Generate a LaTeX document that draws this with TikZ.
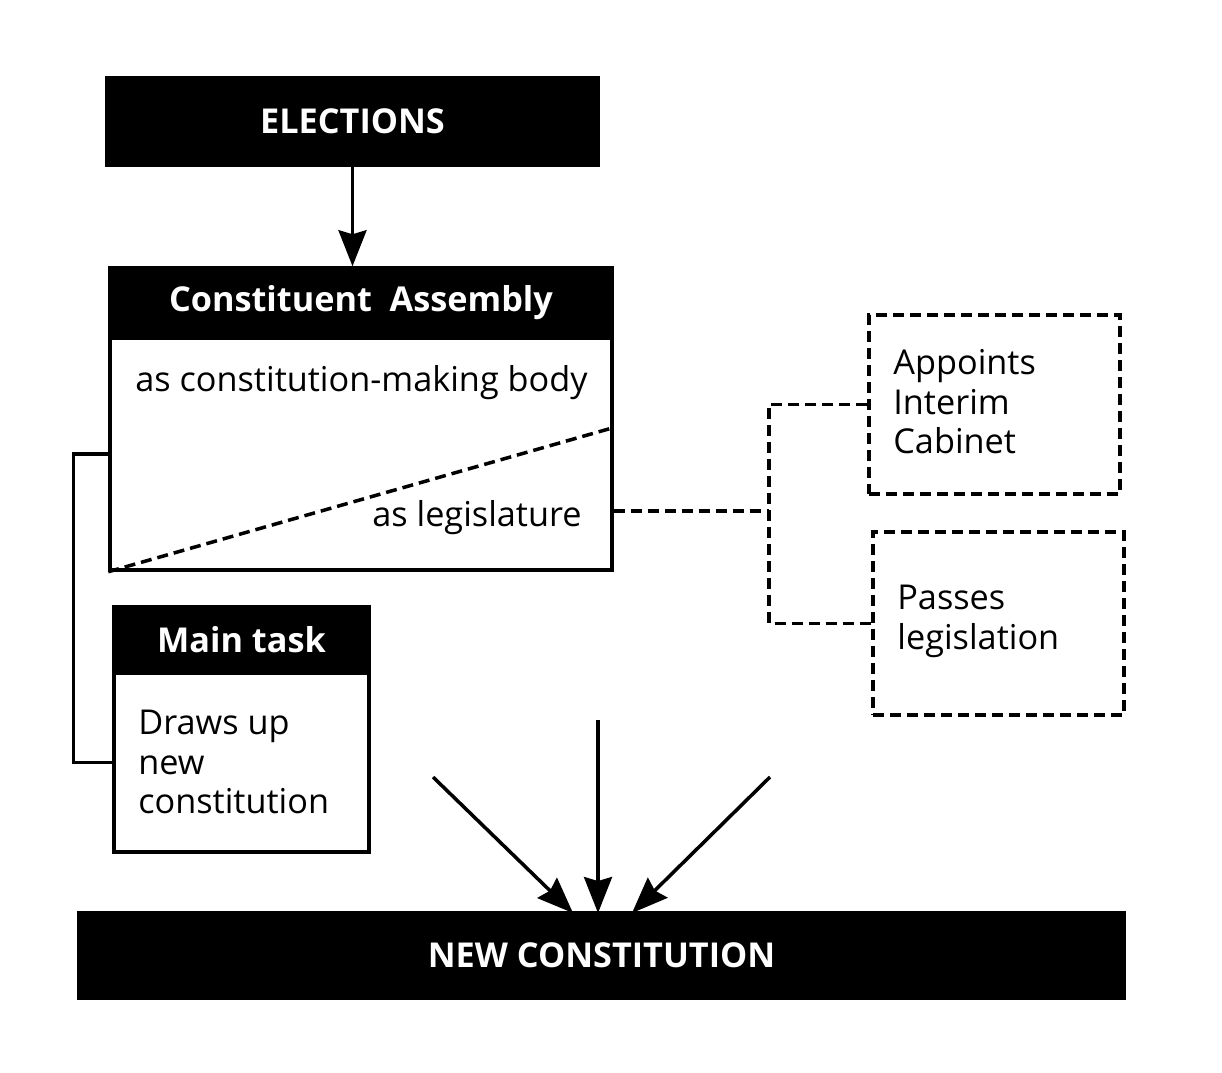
\documentclass[tikz,border=0pt]{standalone}
\usepackage{fontspec}
\setmainfont{Open Sans}
\usepackage{tikz}
\usetikzlibrary{positioning}
\usetikzlibrary{arrows.meta, calc}

\begin{document}
\begin{tikzpicture}[x=0.02cm, y=-0.02cm,
        blackbox/.style={fill=black, draw=black, line width=2pt, text=white,
            font=\fontsize{19.5}{22}\selectfont\bfseries, inner sep=0pt},
        whitebox/.style={draw=black, line width=2pt, inner sep=0pt},
        dashbox/.style={draw=black, line width=2pt, dash pattern=on 0.22cm off 0.12cm, inner sep=0pt},
        body/.style={font=\fontsize{19.5}{22.5}\selectfont, align=left, inner sep=0pt},
        dashline/.style={line width=2pt, dash pattern=on 0.22cm off 0.12cm},
        arr/.style={line width=2pt, -{Stealth[length=0.72cm, width=0.56cm, inset=0.08cm]}}]
    \useasboundingbox (0,0) rectangle (1222,1072);

    \node[blackbox, minimum width=9.82cm, minimum height=1.74cm] (elect) at (352.5,121.5) {ELECTIONS};

    % constituent assembly
    \node[blackbox, minimum width=10.04cm, minimum height=1.4cm] (cahead) at (361,303) {Constituent\ \ Assembly};
    \node[whitebox, minimum width=10.04cm, minimum height=4.64cm] (cabody) at (361,454) {};
    \node[body, anchor=west] (cmb) at (135,383) {as constitution-making body};
    \node[body, anchor=east] (legis) at (582,518) {as legislature};
    \coordinate (diag) at (612,428);
    \draw[dashline] (cabody.south west) -- (diag);

    % main task
    \node[blackbox, minimum width=5.1cm, minimum height=1.32cm] (mthead) at (241.5,640) {Main task};
    \node[whitebox, minimum width=5.1cm, minimum height=3.58cm] (mtbody) at (241.5,762.5) {};
    \node[body, anchor=west] (draws) at (138,762) {Draws up\\new\\constitution};

    % functions as legislature
    \node[dashbox, minimum width=5.02cm, minimum height=3.58cm] (appoint) at (994.5,404.5) {};
    \node[body, anchor=west] (apptxt) at (893,402) {Appoints\\Interim\\Cabinet};
    \node[dashbox, minimum width=5.02cm, minimum height=3.66cm] (passes) at (998.5,623.5) {};
    \node[body, anchor=west] (passtxt) at (897,621.5) {Passes\\legislation};

    \node[blackbox, minimum width=20.9cm, minimum height=1.7cm] (newcon) at (601.5,955.5) {NEW CONSTITUTION};

    \coordinate (fork) at (769,511);
    \coordinate (src1) at (433,777);
    \coordinate (src2) at (598,720);
    \coordinate (src3) at (770,777);
    \coordinate (in1) at (573,913);
    \coordinate (in2) at (598,913);
    \coordinate (in3) at (632,913);

    \draw[arr] (elect.south) -- (elect.south |- cahead.north);
    \draw[line width=2pt] (cabody.west) -- ++(-35,0) |- (mtbody.west);
    \draw[dashline] (cabody.east |- fork) -- (fork);
    \draw[dashline] (appoint.west) -| (fork) |- (passes.west);
    \draw[arr] (src1) -- (in1);
    \draw[arr] (src2) -- (in2);
    \draw[arr] (src3) -- (in3);
\end{tikzpicture}
\end{document}
